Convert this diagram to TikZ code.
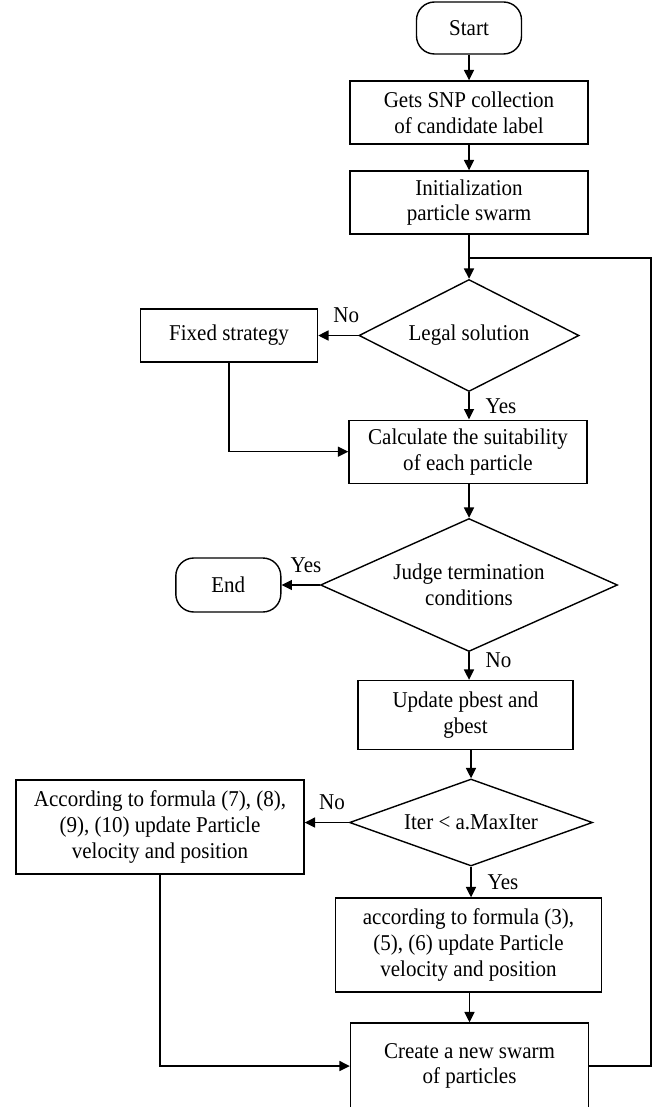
\documentclass[tikz,border=0pt]{standalone}
\usepackage{fontspec}
\setmainfont{Liberation Serif}[FakeStretch=0.93]
\usetikzlibrary{shapes.geometric,arrows.meta}

\tikzset{
  box/.style={draw, rectangle, align=center, inner sep=0pt},
  term/.style={draw, rectangle, rounded corners=9pt, inner sep=0pt},
  decision/.style={draw, diamond, aspect=2.4, align=center, inner sep=0pt},
  lbl/.style={inner sep=2pt},
}

\begin{document}
\begin{tikzpicture}[x=0.5pt, y=-0.5pt, line width=0.7pt,
    font=\fontsize{11.3}{12.9}\selectfont,
    >={Triangle[length=5.2pt,width=5pt]}]
    \useasboundingbox (0,0) rectangle (663,1107);
    % main column
    \node[term, minimum width=52.5pt, minimum height=26pt] (start) at (469,28) {Start};
    \node[box, minimum width=119pt, minimum height=31.5pt] (collect) at (469,112.5) {Gets SNP collection\\of candidate label};
    \node[box, minimum width=119pt, minimum height=31.5pt] (init) at (469,202.5) {Initialization\\particle swarm};
    \coordinate (loop) at (469,258);
    \coordinate (loopR) at (651,258);
    \node[decision, minimum width=110pt, minimum height=56pt] (legal) at (469,335.5) {Legal solution};
    \node[box, minimum width=88.5pt, minimum height=26.5pt] (fixed) at (229,335.5) {Fixed strategy};
    \node[box, minimum width=119pt, minimum height=31.5pt] (calc) at (468,451.7) {Calculate the suitability\\of each particle};
    \node[decision, minimum width=148.5pt, minimum height=66.5pt] (judge) at (469,585) {Judge termination\\conditions};
    \node[term, minimum width=52.5pt, minimum height=27pt] (end) at (228.3,585) {End};
    \node[box, minimum width=107.5pt, minimum height=34.5pt] (update) at (465.5,715) {Update pbest and\\gbest};
    \node[decision, minimum width=121.5pt, minimum height=43.5pt] (iter) at (471,822.5) {Iter < a.MaxIter};
    \node[box, minimum width=144pt, minimum height=47pt] (accB) at (160,827) {According to formula (7), (8),\\(9), (10) update Particle\\velocity and position};
    \node[box, minimum width=133pt, minimum height=47pt] (accA) at (468.5,945) {according to formula (3),\\(5), (6) update Particle\\velocity and position};
    \node[box, minimum width=119pt, minimum height=43pt] (create) at (469.5,1066) {Create a new swarm\\of particles};
    % connectors
    \draw [->] (start) -- (collect);
    \draw [->] (collect) -- (init);
    \draw [->] (init) -- (legal);
    \draw (create.east) -| (loopR) -- (loop);
    \draw [->] (legal.west) -- node[lbl, above=4pt, pos=0.3] {No} (legal.west -| fixed.east);
    \draw [->] (legal) -- node[lbl, right=6pt] {Yes} (calc.north -| legal.south);
    \draw [->] (fixed) |- (calc);
    \draw [->] (calc.south -| judge.north) -- (judge);
    \draw [->] (judge.west) -- node[lbl, above=4pt, pos=0.36] {Yes} (end.east);
    \draw [->] (judge.south) -- node[lbl, right=6pt, pos=0.3] {No} (judge.south |- update.north);
    \draw [->] (update.south -| iter.north) -- (iter.north);
    \draw [->] (iter.west) -- node[lbl, above=4pt, pos=0.38] {No} (iter.west -| accB.east);
    \draw [->] (iter.south) -- node[lbl, right=6pt] {Yes} (iter.south |- accA.north);
    \draw [->] (accA.south -| create.north) -- (create.north);
    \draw [->] (accB) |- (create);
\end{tikzpicture}
\end{document}
